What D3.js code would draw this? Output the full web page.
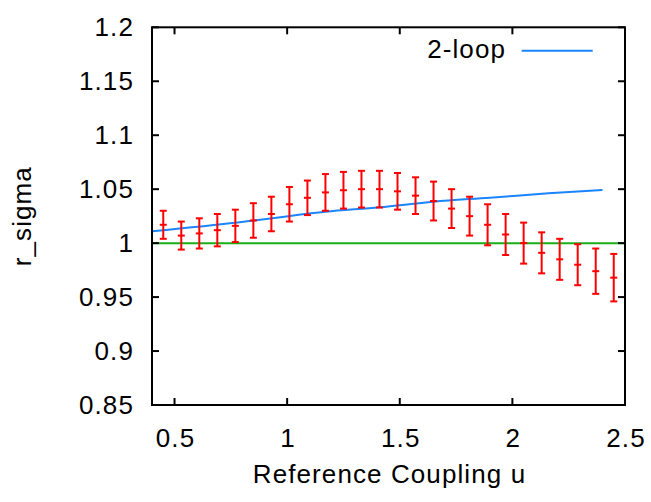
<!DOCTYPE html>
<html><head><meta charset="utf-8">
<script src="https://cdn.jsdelivr.net/npm/d3@7"></script>
<style>body{margin:0;background:#fff}svg{display:block}text{font-family:"Liberation Sans",Arial,sans-serif;fill:#000;letter-spacing:1.1px}</style>
</head><body>
<script>
const uValues = [0.45,0.53,0.61,0.69,0.77,0.85,0.93,1.01,1.09,1.17,1.25,1.33,1.41,1.49,1.57,1.65,1.73,1.81,1.89,1.97,2.05,2.13,2.21,2.29,2.37,2.45];
const rSigma = [1.017,1.007,1.009,1.012,1.016,1.021,1.027,1.036,1.042,1.047,1.049,1.050,1.050,1.048,1.044,1.039,1.032,1.025,1.017,1.008,1.000,0.991,0.985,0.980,0.974,0.968];
const rErr = [0.013,0.013,0.014,0.015,0.015,0.016,0.016,0.016,0.016,0.017,0.017,0.017,0.017,0.017,0.017,0.018,0.018,0.018,0.019,0.019,0.019,0.019,0.019,0.019,0.021,0.022];
const loopU = [0.4,0.79,1.17,1.41,1.65,1.90,2.16,2.4];
const loopV = [1.0109,1.0193,1.0291,1.0332,1.0384,1.0421,1.0462,1.0492];
const refLevel = 1.0;
const xTicks = [0.5,1,1.5,2,2.5];
const yTicks = [0.85,0.9,0.95,1,1.05,1.1,1.15,1.2];
const legendLabel = "2-loop";

const W=651,H=502;
const L=152,R=625,T=27.3,B=405;
const svg=d3.select("body").append("svg").attr("width",W).attr("height",H);
const x=d3.scaleLinear().domain([0.4,2.5]).range([L,R]);
const y=d3.scaleLinear().domain([0.85,1.2]).range([B,T]);
const fs=26;

// reference line
svg.append("line").attr("x1",x(0.4)).attr("x2",x(2.5)).attr("y1",y(refLevel)).attr("y2",y(refLevel))
  .attr("stroke","#1aae1a").attr("stroke-width",2);

// 2-loop curve
svg.append("path").datum(loopU.map((u,i)=>[u,loopV[i]]))
  .attr("d",d3.line().x(d=>x(d[0])).y(d=>y(d[1])).curve(d3.curveMonotoneX))
  .attr("fill","none").attr("stroke","#1a85ff").attr("stroke-width",2);

// error bars
const g=svg.append("g").attr("stroke","#ff0000").attr("stroke-width",2).attr("fill","none");
uValues.forEach((u,i)=>{
  const cx=x(u), v=rSigma[i], e=rErr[i];
  g.append("line").attr("x1",cx).attr("x2",cx).attr("y1",y(v-e)).attr("y2",y(v+e));
  g.append("line").attr("x1",cx-3.5).attr("x2",cx+3.5).attr("y1",y(v-e)).attr("y2",y(v-e));
  g.append("line").attr("x1",cx-3.5).attr("x2",cx+3.5).attr("y1",y(v+e)).attr("y2",y(v+e));
  g.append("line").attr("x1",cx-3.5).attr("x2",cx+3.5).attr("y1",y(v)).attr("y2",y(v));
});

// frame
svg.append("rect").attr("x",L).attr("y",T).attr("width",R-L).attr("height",B-T)
  .attr("fill","none").attr("stroke","#000").attr("stroke-width",2);

// ticks
const tl=7;
const tk=svg.append("g").attr("stroke","#000").attr("stroke-width",2);
xTicks.forEach(t=>{
  tk.append("line").attr("x1",x(t)).attr("x2",x(t)).attr("y1",B).attr("y2",B-tl);
  tk.append("line").attr("x1",x(t)).attr("x2",x(t)).attr("y1",T).attr("y2",T+tl);
});
yTicks.forEach(t=>{
  tk.append("line").attr("x1",L).attr("x2",L+tl).attr("y1",y(t)).attr("y2",y(t));
  tk.append("line").attr("x1",R).attr("x2",R-tl).attr("y1",y(t)).attr("y2",y(t));
});

// tick labels
xTicks.forEach(t=>{
  svg.append("text").attr("x",x(t)+1).attr("y",446.5).attr("text-anchor","middle")
    .attr("font-size",fs).text(d3.format("")(t));
});
yTicks.forEach(t=>{
  svg.append("text").attr("x",134).attr("y",y(t)+9).attr("text-anchor","end")
    .attr("font-size",fs).text(d3.format("")(t));
});

// axis titles
svg.append("text").attr("x",(L+R)/2+1).attr("y",483.3).attr("text-anchor","middle")
  .attr("font-size",fs).text("Reference Coupling u");
svg.append("text").attr("transform",`translate(31,${(T+B)/2}) rotate(-90)`).attr("text-anchor","middle")
  .attr("font-size",fs).text("r_sigma");

// legend
svg.append("text").attr("x",506).attr("y",57.7).attr("text-anchor","end").attr("font-size",fs).text(legendLabel);
svg.append("line").attr("x1",521.7).attr("x2",592.7).attr("y1",50.7).attr("y2",50.7)
  .attr("stroke","#1a85ff").attr("stroke-width",2);
</script>
</body></html>
